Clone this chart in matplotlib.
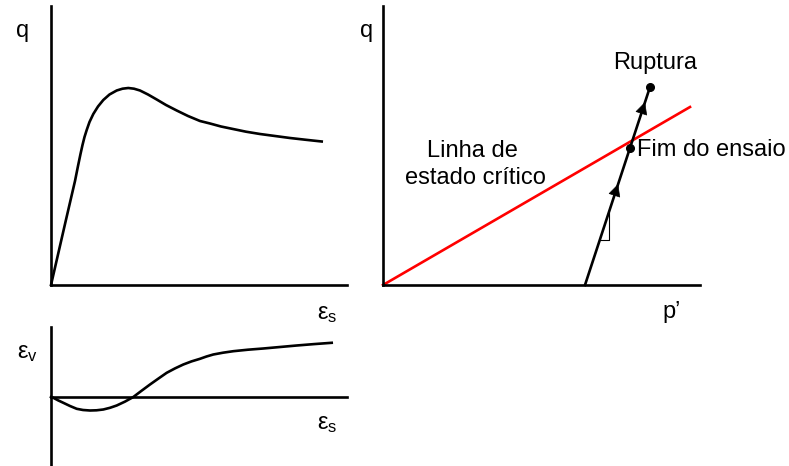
import matplotlib
matplotlib.use("Agg")
import matplotlib.pyplot as plt

plt.rcParams['font.family'] = ['Liberation Sans', 'DejaVu Sans']
plt.rcParams['mathtext.fontset'] = 'custom'
plt.rcParams['mathtext.rm'] = 'Liberation Sans'
plt.rcParams['mathtext.it'] = 'Liberation Sans'

W, H = 789, 466
LW = 1.9
FS = 17

# q vs shear strain (dense sand, peak then softening)
es_q = [0, 14.7, 24, 27, 29.5, 31.5, 33.5, 35.7, 38.5, 42.3, 47, 52.3, 58.5, 65.7, 71.5, 77.3,
        83, 89, 97, 105.7, 115, 125.7, 137, 149, 159, 170, 182, 195, 209, 224, 239, 255, 270.7]
q_es = [0, 64, 104, 119, 131, 140, 148, 155, 163, 171, 178.5, 185, 190.5, 194.5, 196.3, 197,
        196.3, 194.5, 190.5, 185.5, 180, 174.5, 169, 164, 161.5, 158.5, 156, 153.3, 151, 149, 147, 145.2, 143.5]

# volumetric strain vs shear strain (contraction then dilation)
es_v = [0, 2.3, 7, 12.3, 19, 25.7, 32, 39, 45.5, 52.3, 59, 65.7, 74, 82.3, 90.5, 99, 107.5,
        115.7, 124, 132.3, 140.5, 149, 155.5, 162.3, 172, 182.3, 197, 212.3, 229, 245.7, 263, 280.7]
ev_es = [0, -0.8, -3.3, -5.8, -9, -11.8, -13, -13.5, -13.3, -12.5, -10.8, -8.5, -4.6, 0, 6.2, 12.5, 18.5,
         24.2, 28.6, 32.5, 35.6, 38.2, 40.5, 42.5, 44.3, 45.8, 47.3, 48.5, 50, 51.5, 52.9, 54.2]

# stress path and critical state line in p'-q
csl_p = [0, 307]
csl_q = [0, 178]
path_p = [202, 267]
path_q = [0, 198]
end_pt = (247, 137)
arrow_q = [95, 177]
slope = (path_q[1] - path_q[0]) / (path_p[1] - path_p[0])


def panel(left, bottom, width, height):
    ax = fig.add_axes([left / W, bottom / H, width / W, height / H])
    ax.set_xticks([])
    ax.set_yticks([])
    for s in ['top', 'right']:
        ax.spines[s].set_visible(False)
    for s in ['left', 'bottom']:
        ax.spines[s].set_linewidth(LW)
    ax.patch.set_alpha(0)
    return ax


fig = plt.figure(figsize=(W / 100, H / 100), dpi=100)

# top left
ax1 = panel(51, H - 285, 296, 279)
ax1.set_xlim(0, 296)
ax1.set_ylim(0, 279)
ax1.plot(es_q, q_es, color='k', lw=LW, solid_joinstyle='round', clip_on=False)

# bottom left
ax2 = panel(51, 0, 296, H - 327)
ax2.set_xlim(0, 296)
ax2.set_ylim(-69, 70)
ax2.spines['bottom'].set_position(('data', 0))
ax2.plot(es_v, ev_es, color='k', lw=LW, solid_joinstyle='round', clip_on=False)

# right: p'-q plane
ax3 = panel(383, H - 285, 317, 279)
ax3.set_xlim(0, 317)
ax3.set_ylim(0, 279)
ax3.plot(csl_p, csl_q, color='#ff0000', lw=LW, clip_on=False)
ax3.plot(path_p, path_q, color='k', lw=LW, clip_on=False)
ax3.plot([path_p[1]], [path_q[1]], 'o', color='k', ms=5.5)
ax3.plot([end_pt[0]], [end_pt[1]], 'o', color='k', ms=5.5)
for yq in arrow_q:
    p0 = path_p[0] + (yq - 6) / slope
    ax3.annotate('', xy=(p0 + 12 / slope, yq + 6), xytext=(p0, yq - 6),
                 arrowprops=dict(arrowstyle='-|>', color='k', lw=0.5,
                                 mutation_scale=20, shrinkA=0, shrinkB=0))
# slope triangle
tri_y = 45
tri_x0 = path_p[0] + tri_y / slope
tri_x1 = tri_x0 + 9
ax3.plot([tri_x0, tri_x1, tri_x1], [tri_y, tri_y, (tri_x1 - path_p[0]) * slope],
         color='k', lw=0.8)

# labels
def label(x, y, s, **kw):
    fig.text(x / W, 1 - y / H, s, fontsize=FS, va='center', **kw)

label(23, 31, 'q', ha='center')
label(367, 31, 'q', ha='center')
label(327, 314, r'$\varepsilon_{\mathrm{s}}$', ha='center')
label(327, 424, r'$\varepsilon_{\mathrm{s}}$', ha='center')
label(27, 353, r'$\varepsilon_{\mathrm{v}}$', ha='center')
label(672, 312, 'p\u2019', ha='center')
label(655, 63, 'Ruptura', ha='center')
label(637, 150, 'Fim do ensaio', ha='left')
label(472, 151, 'Linha de', ha='center')
label(475, 178, 'estado crítico', ha='center')

fig.savefig('out.png', dpi=100)
